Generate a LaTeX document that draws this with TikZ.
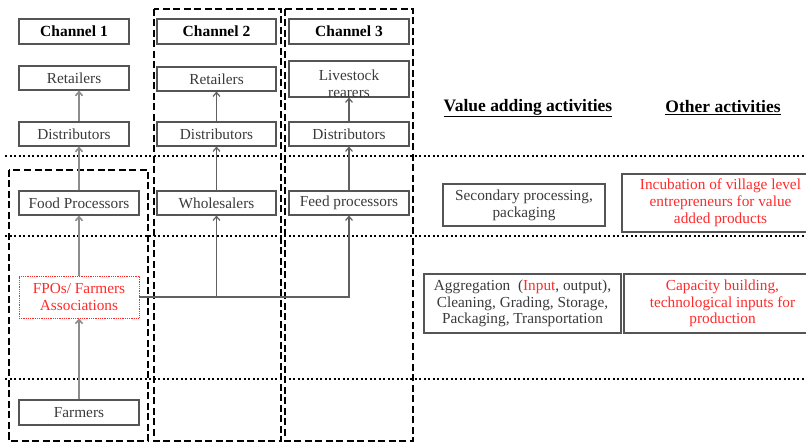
\documentclass[tikz,border=0pt]{standalone}
\usepackage{fontspec}
\setmainfont{Liberation Serif}
\usetikzlibrary{arrows.meta}
\definecolor{boxline}{HTML}{555555}
\definecolor{txt}{HTML}{3A3A3A}
\definecolor{redtxt}{HTML}{FF2A2A}
\definecolor{lightarrow}{HTML}{8C8C8C}
\definecolor{darkarrow}{HTML}{606060}
\begin{document}
\begin{tikzpicture}[x=1pt,y=-1pt,
  font=\fontsize{15.3}{16.8}\selectfont,
  box/.style={draw=boxline, line width=1.1pt, text=txt, inner sep=0pt, align=center},
  headbox/.style={box, draw=boxline, line width=1.3pt, text=black, font=\fontsize{15.5}{17}\selectfont\bfseries},
  redbox/.style={box, draw=redtxt, line width=0.8pt, densely dotted, text=redtxt},
  actbox/.style={box, line width=1.3pt},
  heading/.style={font=\fontsize{17.5}{20}\selectfont\bfseries, text=black},
  tip/.style={-{Straight Barb[length=4pt,width=7pt]}},
  arrowA/.style={tip, draw=lightarrow, line width=1.6pt},
  arrowB/.style={tip, draw=darkarrow, line width=1.2pt},
  chanframe/.style={draw=black, line width=2.4pt, dash pattern=on 7pt off 3.5pt},
  layer/.style={draw=black, line width=2.5pt, dash pattern=on 2pt off 2.5pt}]
\useasboundingbox (0,0) rectangle (806,443);
\clip (0,0) rectangle (806,443);

% channel frames
\draw[chanframe] (9,170) rectangle (148,441);
\draw[chanframe] (154,9) rectangle (281,441);
\draw[chanframe] (285,9) rectangle (413,441);

% layer separators
\draw[layer] (5,156) -- (806,156);
\draw[layer] (5,236) -- (806,236);
\draw[layer] (5,379) -- (806,379);

% channel headers
\node[headbox, minimum width=110, minimum height=25] (ch1) at (74,31.5) {Channel 1};
\node[headbox, minimum width=119, minimum height=25] (ch2) at (216.5,31.5) {Channel 2};
\node[headbox, minimum width=120, minimum height=25] (ch3) at (349,31.5) {Channel 3};

% top tier
\node[box, minimum width=110, minimum height=24] (ret1) at (74,78) {Retailers};
\node[box, minimum width=119, minimum height=24] (ret2) at (216.5,79) {Retailers};
\node[box, minimum width=120, minimum height=36] (lr) at (349,79) {};
\node[text=txt, align=center] (lrtext) at ([yshift=-5]lr.center) {Livestock\\rearers};

\node[box, minimum width=110, minimum height=24] (dis1) at (74,134) {Distributors};
\node[box, minimum width=119, minimum height=24] (dis2) at (216.5,134) {Distributors};
\node[box, minimum width=120, minimum height=24] (dis3) at (349,134) {Distributors};

% processing tier
\node[box, minimum width=120, minimum height=24] (fp) at (79,203) {Food Processors};
\node[box, minimum width=119, minimum height=24] (wh) at (216.5,203) {Wholesalers};
\node[box, minimum width=120, minimum height=24] (fdp) at (349,203) {Feed processors};

% producer tier
\node[redbox, minimum width=120, minimum height=42] (fpo) at (79,297) {FPOs/ Farmers\\Associations};
\node[box, minimum width=120, minimum height=25] (farm) at (79,412.5) {Farmers};

% channel 1 flow
\draw[arrowA] (farm.north) -- (fpo.south);
\draw[arrowA] (fpo.north) -- (fp.south);
\draw[arrowA] (fp.north) -- (fp.north |- dis1.south);
\draw[arrowA] (dis1.north -| fp.north) -- (ret1.south -| fp.north);

% channel 2 and 3 flow
\draw[arrowB] (fpo.east) -| (fdp.south);
\draw[arrowB] (fpo.east -| wh.south) -- (wh.south);
\draw[arrowB] (wh.north) -- (dis2.south);
\draw[arrowB] (dis2.north) -- (ret2.south);
\draw[arrowB] (fdp.north) -- (dis3.south);
\draw[arrowB] (dis3.north) -- (lr.south);

% activity columns
\node[heading] (hva) at (528,108) {\underline{Value adding activities}};
\node[heading] (hot) at (723,108) {\underline{Other activities}};

\node[actbox, minimum width=162, minimum height=42] (sec) at (524,205) {Secondary processing,\\packaging};
\node[actbox, minimum width=197, minimum height=58, text=redtxt] (inc) at (720.5,203) {Incubation of village level\\entrepreneurs for value\\added products};
\node[actbox, minimum width=197, minimum height=59] (agg) at (522.5,303.5) {Aggregation~~(\textcolor{redtxt}{Input}, output),\\Cleaning, Grading, Storage,\\Packaging, Transportation};
\node[actbox, minimum width=197, minimum height=59, text=redtxt] (cap) at (722.5,303.5) {Capacity building,\\technological inputs for\\production};
\end{tikzpicture}
\end{document}
